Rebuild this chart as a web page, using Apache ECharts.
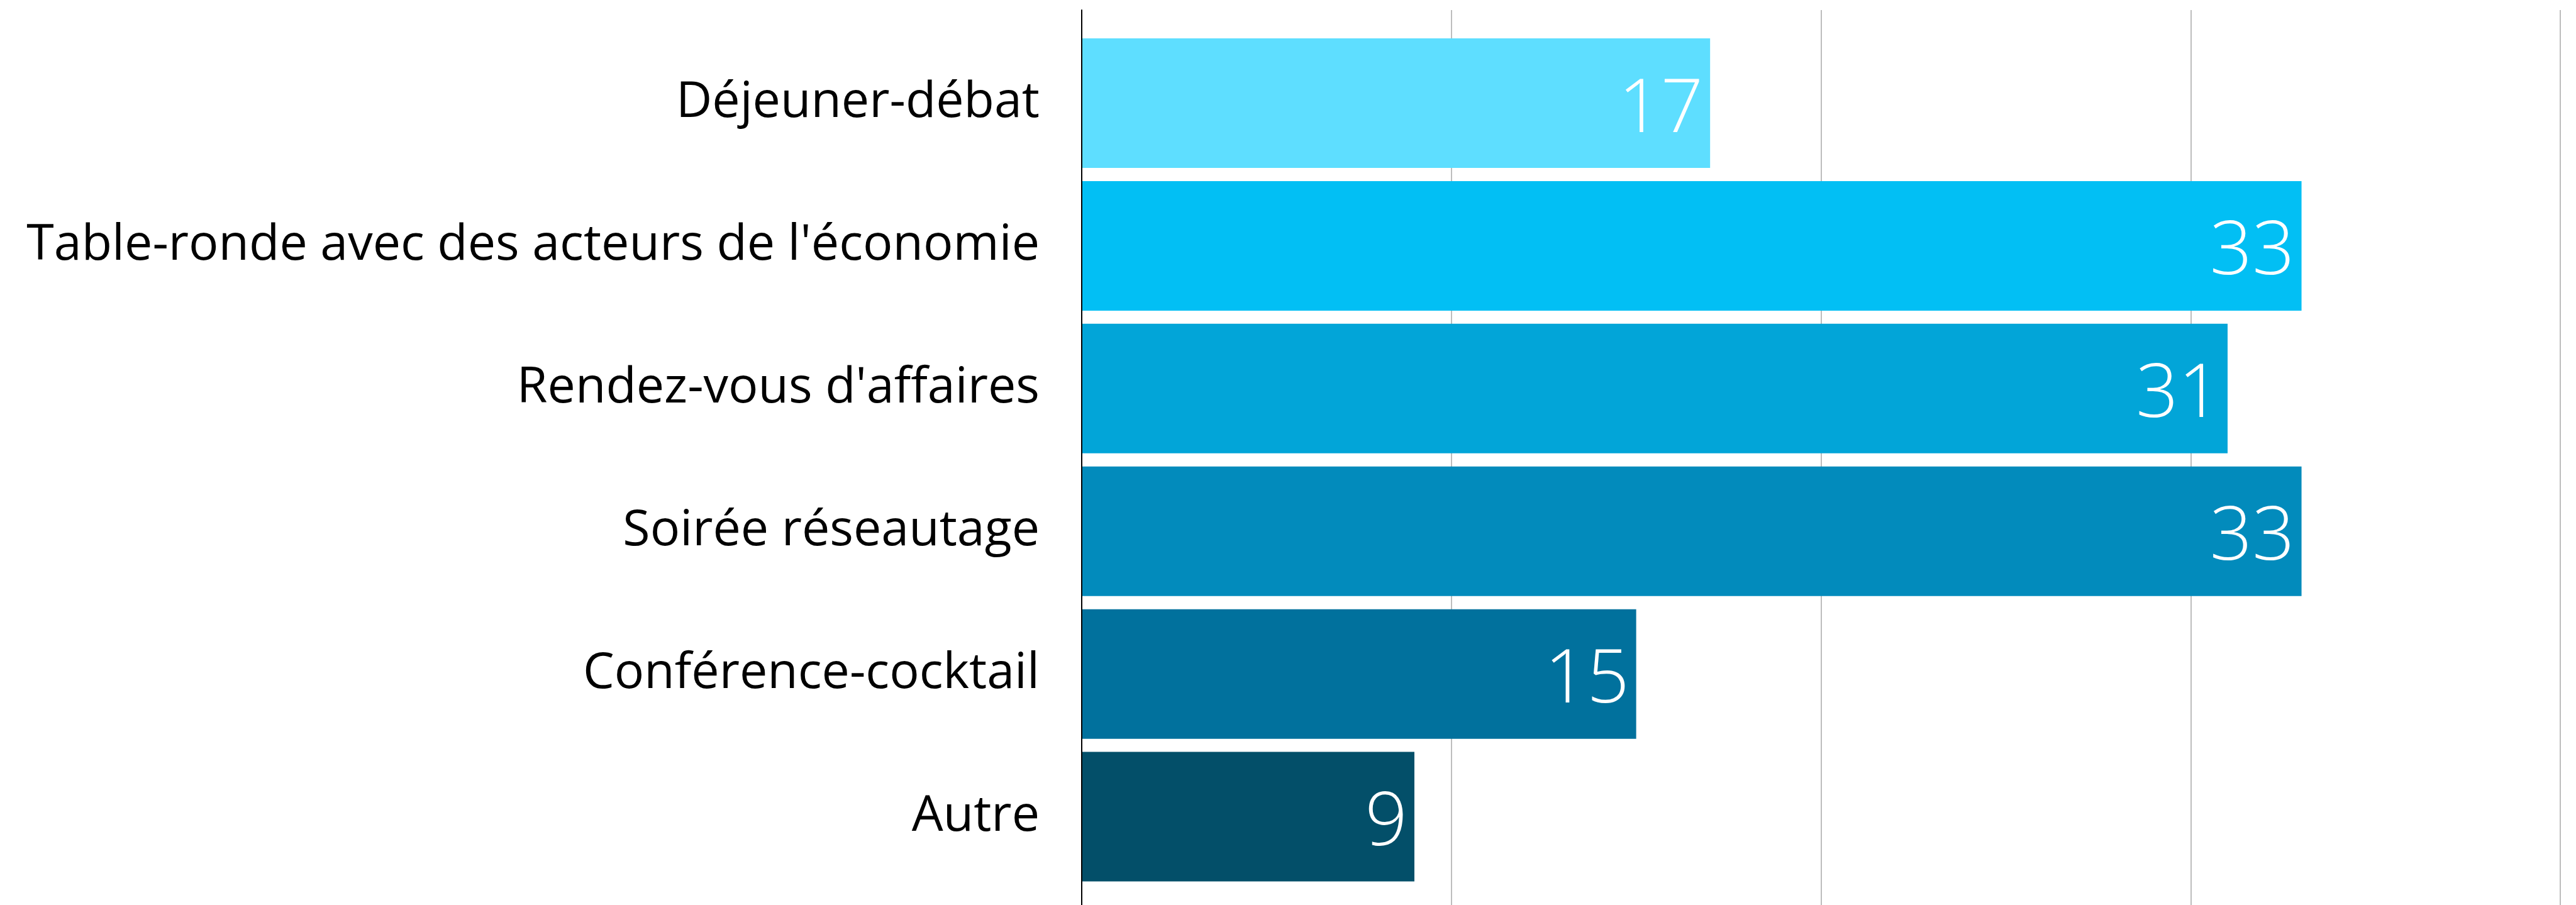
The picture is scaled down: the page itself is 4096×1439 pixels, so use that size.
<!DOCTYPE html>
<html>
<head>
<meta charset="utf-8">
<script src="https://cdn.jsdelivr.net/npm/echarts@6/dist/echarts.min.js"></script>
<style>
html, body { margin: 0; padding: 0; background: #fff; }
#chart { width: 4096px; height: 1439px; }
</style>
</head>
<body>
<div id="chart"></div>
<script type="text/javascript">
var categories = ['Déjeuner-débat', "Table-ronde avec des acteurs de l'économie", "Rendez-vous d'affaires", 'Soirée réseautage', 'Conférence-cocktail', 'Autre'];
var values = [17, 33, 31, 33, 15, 9];
var barColors = ['#5EDEFF', '#02BFF4', '#02A5D8', '#028BBC', '#01719D', '#034F69'];
var xTicks = [0, 10, 20, 30, 40];

var myChart = echarts.init(document.getElementById('chart'));

// grid 0 only carries the gridlines and the axis line, grid 1 holds the bars
var option = {
    animation: false,
    grid: [
        { left: 1720, right: 25, top: 16, bottom: 0 },
        { left: 1720, right: 25, top: 50.5, bottom: 27 }
    ],
    xAxis: [{
        gridIndex: 0,
        type: 'value',
        min: xTicks[0],
        max: xTicks[xTicks.length - 1],
        interval: xTicks[1] - xTicks[0],
        axisLine: { show: false },
        axisTick: { show: false },
        axisLabel: { show: false },
        splitLine: { show: true, showMinLine: false, lineStyle: { color: '#bdbdbd', width: 2 } }
    }, {
        gridIndex: 1,
        type: 'value',
        min: xTicks[0],
        max: xTicks[xTicks.length - 1],
        axisLine: { show: false },
        axisTick: { show: false },
        axisLabel: { show: false },
        splitLine: { show: false }
    }],
    yAxis: [{
        gridIndex: 0,
        type: 'category',
        data: [''],
        axisLine: { show: true, lineStyle: { color: '#000', width: 2 } },
        axisTick: { show: false },
        axisLabel: { show: false },
        z: 10
    }, {
        gridIndex: 1,
        type: 'category',
        inverse: true,
        data: categories,
        axisLine: { show: false },
        axisTick: { show: false },
        axisLabel: {
            margin: 67,
            color: '#000',
            fontFamily: 'Open Sans',
            fontSize: 79,
            padding: [28, 0, 0, 0]
        }
    }],
    series: [{
        type: 'bar',
        xAxisIndex: 1,
        yAxisIndex: 1,
        barWidth: 206,
        data: values.map(function (v, i) {
            return { value: v, itemStyle: { color: barColors[i] } };
        }),
        label: {
            show: true,
            position: 'insideRight',
            distance: 11,
            offset: [0, 12],
            color: '#fff',
            fontFamily: 'Open Sans',
            fontWeight: 350,
            fontSize: 118
        }
    }]
};
myChart.setOption(option);
</script>
</body>
</html>
